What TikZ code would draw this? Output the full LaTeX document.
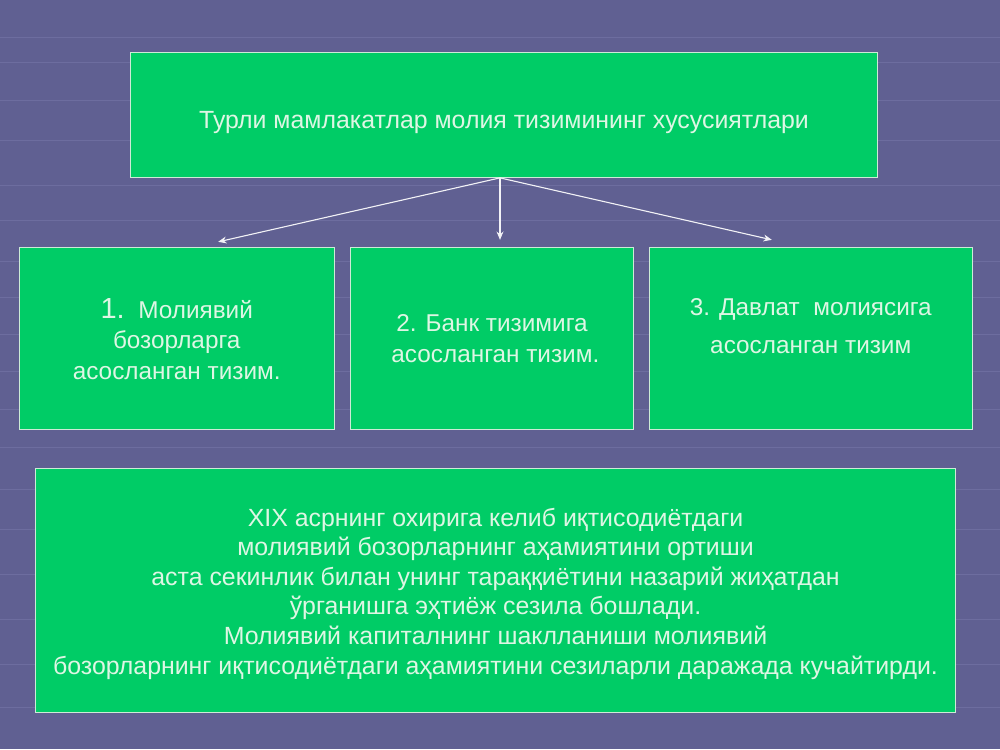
\documentclass[tikz,border=0pt]{standalone}
\usepackage{fontspec}
\setmainfont{Liberation Sans}
\usetikzlibrary{arrows.meta, positioning}

\definecolor{slidebg}{RGB}{96,96,146}
\definecolor{gridln}{RGB}{122,122,172}
\definecolor{boxgreen}{RGB}{0,204,102}
\definecolor{boxline}{RGB}{205,235,215}
\definecolor{boxtext}{RGB}{222,246,228}

\begin{document}
\begin{tikzpicture}[
    x=0.0254cm, y=-0.0254cm,
    greenbox/.style={draw=boxline, line width=0.6pt, fill=boxgreen, rectangle, align=center, text=boxtext, inner sep=0pt},
    toptext/.style={font=\fontsize{18}{21}\selectfont},
    midtext/.style={font=\fontsize{17.6}{22}\selectfont},
    bottext/.style={font=\fontsize{18}{21.4}\selectfont},
    arr/.style={-{Stealth[length=6pt,width=5pt]}, white!92!slidebg, line width=0.8pt}
]

\fill[slidebg] (0,0) rectangle (1000,750);
\foreach \yy in {37,62,100,140,185,220,262,298,335,372,410,448,490,530,575,620,665,708}
    \draw[gridln, line width=0.5pt, opacity=0.5] (0,\yy) -- (1000,\yy);

\node[greenbox, toptext, minimum width=19.0cm, minimum height=3.2cm] (title) at (504,115) {\raisebox{-10pt}[0pt][0pt]{Турли мамлакатлар молия тизимининг хусусиятлари}};

\node[greenbox, midtext, minimum width=8.0cm, minimum height=4.62cm] (fin) at (176.5,339) {{\fontsize{21}{22}\selectfont 1.}\ \ Молиявий\\бозорларга\\ асосланган тизим.};
\node[greenbox, midtext, minimum width=7.21cm, minimum height=4.62cm] (bank) at (492,339) {2. Банк тизимига\\ \ асосланган тизим.};
\node[greenbox, minimum width=8.23cm, minimum height=4.62cm] (state) at (811,339) {};
\node[text=boxtext, align=center, font=\fontsize{17.6}{27.4}\selectfont] (statetxt) at (811,326) {3. Давлат\ \ молиясига\\асосланган тизим};

\node[greenbox, minimum width=23.39cm, minimum height=6.2cm] (note) at (495.5,591) {};
\node[bottext, text=boxtext, align=center] (notetxt) at (495.5,594) {XIX асрнинг охирига келиб иқтисодиётдаги\\молиявий бозорларнинг аҳамиятини ортиши\\аста секинлик билан унинг тараққиётини назарий жиҳатдан\\ўрганишга эҳтиёж сезила бошлади.\\Молиявий капиталнинг шаклланиши молиявий\\бозорларнинг иқтисодиётдаги аҳамиятини сезиларли даражада кучайтирди.};

\coordinate (hub) at (500,178);
\coordinate (t1) at (218,242);
\coordinate (t2) at (500,240);
\coordinate (t3) at (772,240);
\draw[arr] (hub) -- (t1);
\draw[arr] (hub) -- (t2);
\draw[arr] (hub) -- (t3);

\end{tikzpicture}
\end{document}
